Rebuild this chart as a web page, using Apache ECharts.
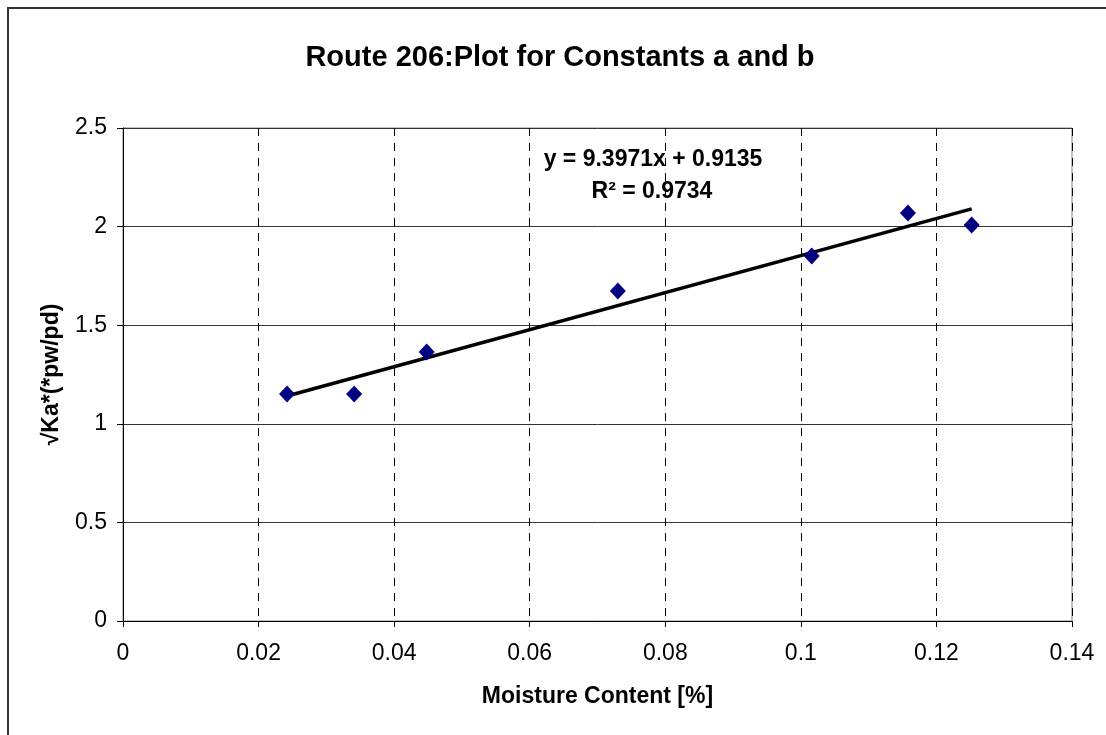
<!DOCTYPE html>
<html>
<head>
<meta charset="utf-8">
<script src="https://cdn.jsdelivr.net/npm/echarts@6/dist/echarts.min.js"></script>
<style>
html,body{margin:0;padding:0;background:#fff;}
#chart{width:1106px;height:735px;}
</style>
</head>
<body>
<div id="chart"></div>
<script>
var moisture = [0.0242, 0.0341, 0.0448, 0.0730, 0.1016, 0.1158, 0.1252];
var sqrtKa = [1.151, 1.151, 1.364, 1.673, 1.851, 2.069, 2.008];
var slope = 9.3971;
var intercept = 0.9135;
var rSquared = 0.9734;
var xTicks = [0, 0.02, 0.04, 0.06, 0.08, 0.1, 0.12, 0.14];
var yTicks = [0, 0.5, 1, 1.5, 2, 2.5];

var xMin = Math.min.apply(null, moisture), xMax = Math.max.apply(null, moisture);
var trend = [[xMin, slope * xMin + intercept], [xMax, slope * xMax + intercept]];
var points = moisture.map(function (x, i) { return [x, sqrtKa[i]]; });

var chart = echarts.init(document.getElementById('chart'));
var font = 'Liberation Sans, Arial, sans-serif';
chart.setOption({
  animation: false,
  backgroundColor: '#fff',
  graphic: [
    {type: 'polyline', shape: {points: [[8, 740], [8, 8], [1110, 8]]}, style: {stroke: '#333', lineWidth: 2, fill: null}},
    {type: 'text', x: 560, y: 58, style: {text: 'Route 206:Plot for Constants a and b', fontFamily: font, fontSize: 29, fontWeight: 'bold', fill: '#000', align: 'center', verticalAlign: 'middle'}},
    {type: 'text', x: 653, y: 160, z: 10, style: {text: 'y = ' + slope.toFixed(4) + 'x + ' + intercept.toFixed(4), fontFamily: font, fontSize: 23, fontWeight: 'bold', fill: '#000', align: 'center', verticalAlign: 'middle'}},
    {type: 'text', x: 652, y: 192, z: 10, style: {text: 'R\u00b2 = ' + rSquared.toFixed(4), fontFamily: font, fontSize: 23, fontWeight: 'bold', fill: '#000', align: 'center', verticalAlign: 'middle'}}
  ],
  grid: {left: 123, right: 34, top: 128, bottom: 114, show: true, borderColor: '#808080', borderWidth: 1},
  xAxis: {
    type: 'value', min: 0, max: 0.14, interval: 0.02,
    name: 'Moisture Content [%]', nameLocation: 'middle', nameGap: 64,
    nameTextStyle: {fontFamily: font, fontSize: 23, fontWeight: 'bold', color: '#000'},
    axisLine: {show: true, lineStyle: {color: '#000', width: 1}},
    axisTick: {show: true, inside: false, length: 6, lineStyle: {color: '#000'}},
    axisLabel: {fontFamily: font, fontSize: 23, color: '#000', margin: 21,
      formatter: function (v) { return String(parseFloat(v.toFixed(4))); }},
    splitLine: {show: true, lineStyle: {color: '#000', type: [8, 7], width: 1}}
  },
  yAxis: {
    type: 'value', min: 0, max: 2.5, interval: 0.5,
    name: '√Ka*(*pw/pd)', nameLocation: 'middle', nameGap: 60,
    nameTextStyle: {fontFamily: font, fontSize: 23, fontWeight: 'bold', color: '#000'},
    axisLine: {show: true, lineStyle: {color: '#000', width: 1}},
    axisTick: {show: true, inside: false, length: 6, lineStyle: {color: '#000'}},
    axisLabel: {fontFamily: font, fontSize: 23, color: '#000', margin: 16,
      formatter: function (v) { return String(parseFloat(v.toFixed(2))); }},
    splitLine: {show: true, lineStyle: {color: '#333', width: 1}}
  },
  series: [
    {type: 'line', data: trend, symbol: 'none', lineStyle: {color: '#000', width: 3.5}, z: 3},
    {type: 'scatter', data: points, symbol: 'diamond', symbolSize: [16, 17], itemStyle: {color: '#000080', opacity: 1}, z: 4}
  ]
});
</script>
</body>
</html>
